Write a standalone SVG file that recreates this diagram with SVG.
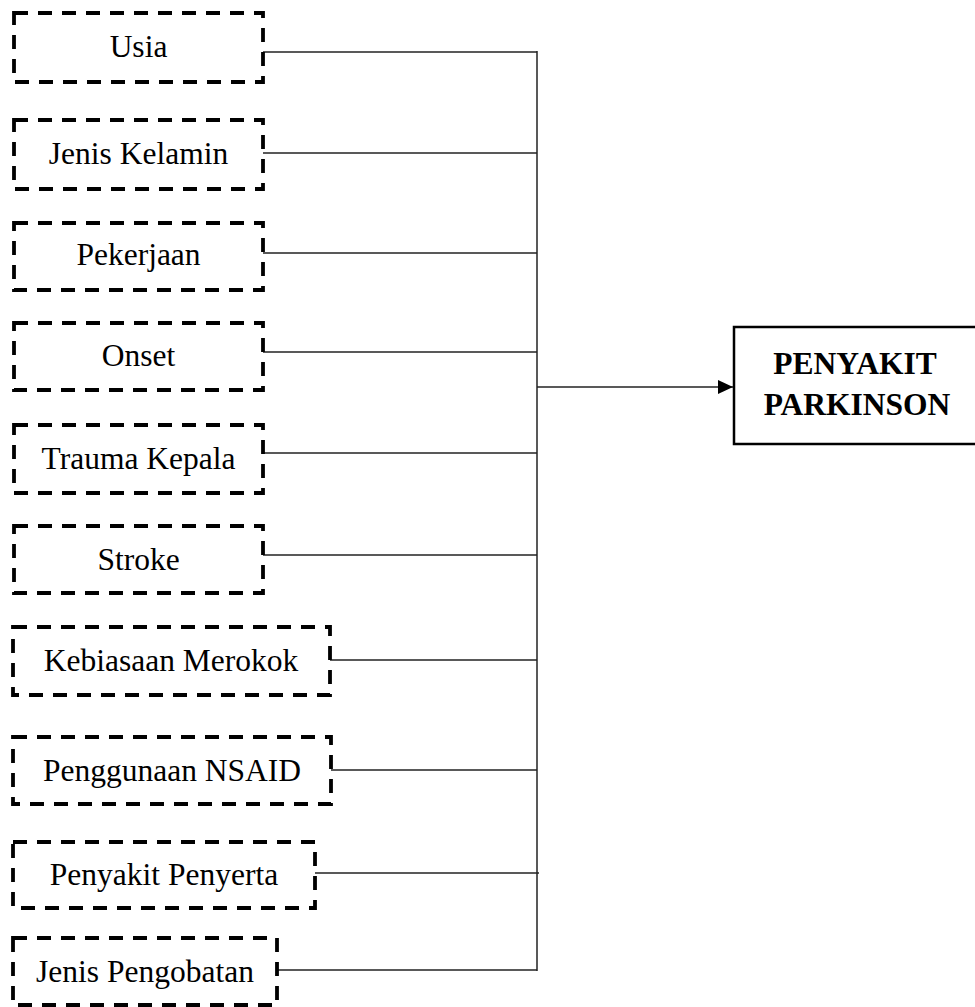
<svg xmlns="http://www.w3.org/2000/svg" width="975" height="1007" viewBox="0 0 975 1007">
<style>
.box{fill:none;stroke:#000;stroke-width:3.8;stroke-dasharray:14 10}
.lbl{font-family:"Liberation Serif","Times New Roman",serif;font-size:31.5px;fill:#000;text-anchor:middle}
.out{fill:none;stroke:#000;stroke-width:2.5}
.bold{font-family:"Liberation Serif","Times New Roman",serif;font-size:31.5px;font-weight:bold;fill:#000;text-anchor:middle}
.con{fill:none;stroke:#222;stroke-width:1.5}
</style>
<defs>
<marker id="arr" markerWidth="16" markerHeight="14" refX="15" refY="7" orient="auto" markerUnits="userSpaceOnUse">
<path d="M0,0 L15,7 L0,14 Z" fill="#000"/>
</marker>
</defs>
<rect width="975" height="1007" fill="#fff"/>
<g id="connectors">
<line class="con" x1="263" y1="52" x2="537" y2="52"/>
<line class="con" x1="263" y1="153" x2="537" y2="153"/>
<line class="con" x1="263" y1="253" x2="537" y2="253"/>
<line class="con" x1="263" y1="352" x2="537" y2="352"/>
<line class="con" x1="263" y1="453" x2="537" y2="453"/>
<line class="con" x1="263" y1="555" x2="537" y2="555"/>
<line class="con" x1="330" y1="660" x2="537" y2="660"/>
<line class="con" x1="331" y1="770" x2="537" y2="770"/>
<line class="con" x1="315" y1="873" x2="539" y2="873"/>
<line class="con" x1="277" y1="970" x2="537" y2="970"/>
<line class="con" x1="537" y1="51" x2="537" y2="971"/>
<line class="con" x1="537" y1="387" x2="733" y2="387" marker-end="url(#arr)"/>
</g>
<g id="n1"><rect class="box" x="14" y="13" width="249" height="69"/><text class="lbl" x="138.5" y="57">Usia</text></g>
<g id="n2"><rect class="box" x="14" y="120" width="249" height="69"/><text class="lbl" x="138.5" y="164">Jenis Kelamin</text></g>
<g id="n3"><rect class="box" x="14" y="223" width="249" height="67"/><text class="lbl" x="138.5" y="265">Pekerjaan</text></g>
<g id="n4"><rect class="box" x="14" y="323" width="249" height="67"/><text class="lbl" x="138.5" y="366">Onset</text></g>
<g id="n5"><rect class="box" x="14" y="425" width="249" height="68"/><text class="lbl" x="138.5" y="469">Trauma Kepala</text></g>
<g id="n6"><rect class="box" x="14" y="526" width="249" height="67"/><text class="lbl" x="138.5" y="570">Stroke</text></g>
<g id="n7"><rect class="box" x="13" y="627" width="317" height="68"/><text class="lbl" x="171" y="671">Kebiasaan Merokok</text></g>
<g id="n8"><rect class="box" x="13" y="737" width="318" height="67"/><text class="lbl" x="172" y="781">Penggunaan NSAID</text></g>
<g id="n9"><rect class="box" x="13" y="842" width="302" height="66"/><text class="lbl" x="164" y="885">Penyakit Penyerta</text></g>
<g id="n10"><rect class="box" x="13" y="938" width="264" height="67"/><text class="lbl" x="145" y="982">Jenis Pengobatan</text></g>
<g id="target"><rect class="out" x="734" y="327" width="250" height="117"/><text class="bold" x="855" y="374">PENYAKIT</text><text class="bold" x="857" y="415">PARKINSON</text></g>
</svg>
